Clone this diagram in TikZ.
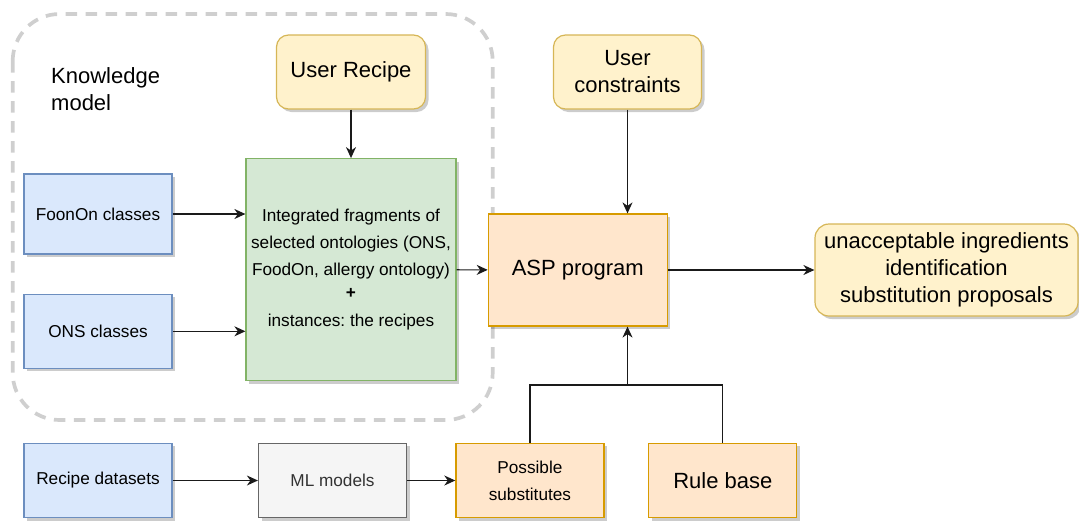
\documentclass[tikz,border=0pt]{standalone}
\usepackage{fontspec}
\setmainfont{Liberation Sans}
\usetikzlibrary{arrows.meta,shadows}
\frenchspacing
\definecolor{bluefill}{HTML}{DAE8FC}
\definecolor{bluedraw}{HTML}{6C8EBF}
\definecolor{greenfill}{HTML}{D5E8D4}
\definecolor{greendraw}{HTML}{82B366}
\definecolor{yellowfill}{HTML}{FFF2CC}
\definecolor{yellowdraw}{HTML}{D6B656}
\definecolor{orangefill}{HTML}{FFE6CC}
\definecolor{orangedraw}{HTML}{D79B00}
\definecolor{grayfill}{HTML}{F5F5F5}
\definecolor{graydraw}{HTML}{666666}
\definecolor{graytext}{HTML}{333333}
\definecolor{kmdash}{HTML}{CFCFCF}
\definecolor{edgecol}{HTML}{1A1A1A}
\tikzset{
  box/.style={rectangle, inner sep=0pt, line width=1.2pt, align=center,
    drop shadow={shadow xshift=3pt, shadow yshift=-3pt, fill=black, opacity=0.2}},
  bigtext/.style={font=\fontsize{22}{27}\selectfont},
  smalltext/.style={font=\fontsize{17.2}{27}\selectfont},
  bluebox/.style={box, fill=bluefill, draw=bluedraw, smalltext},
  greenbox/.style={box, fill=greenfill, draw=greendraw, smalltext},
  yellowbox/.style={box, fill=yellowfill, draw=yellowdraw, bigtext, rounded corners=12pt},
  orangebox/.style={box, fill=orangefill, draw=orangedraw},
  graybox/.style={box, fill=grayfill, draw=graydraw, text=graytext, smalltext},
  arr/.style={draw=edgecol, line width=1.2pt, -{Stealth[length=11pt,width=10pt,inset=3.5pt]}},
  lin/.style={draw=edgecol, line width=1.2pt},
}
\begin{document}
\begin{tikzpicture}[x=1pt,y=-1pt]
\useasboundingbox (0,0) rectangle (1079,520);
% knowledge model container
\draw[kmdash, line width=3.7pt, dash pattern=on 11.5pt off 8.5pt, rounded corners=47pt]
  (12.7,14) rectangle (492.7,420);
\node[bigtext, align=left, anchor=west, inner sep=0pt] (kmlabel) at (51,89.5) {Knowledge\\model};
% nodes
\node[yellowbox, minimum width=149pt, minimum height=74pt] (ur) at (351,72) {User Recipe};
\node[yellowbox, minimum width=148pt, minimum height=74pt] (uc) at (627.5,72) {User\\constraints};
\node[greenbox, minimum width=210pt, minimum height=222pt] (green) at (351,269.7)
  {Integrated fragments of\\selected ontologies (ONS,\\FoodOn, allergy ontology)\\[-3.7pt]\textbf{+}\\[1.3pt]instances: the recipes};
\node[bluebox, minimum width=148pt, minimum height=80pt] (foon) at (98,214) {FoonOn classes};
\node[bluebox, minimum width=148pt, minimum height=74pt] (ons) at (98,331.3) {ONS classes};
\node[bluebox, minimum width=148pt, minimum height=74.4pt] (rd) at (98,480.5) {Recipe datasets};
\node[graybox, minimum width=148pt, minimum height=74.4pt] (ml) at (332.5,480.5) {ML models};
\node[orangebox, smalltext, minimum width=148pt, minimum height=74.4pt] (ps) at (529.9,480.5) {Possible\\substitutes};
\node[orangebox, bigtext, minimum width=148pt, minimum height=74.4pt] (rb) at (722.8,480.5) {Rule base};
\node[orangebox, bigtext, minimum width=179pt, minimum height=112pt] (asp) at (577.8,270) {ASP program};
\node[box, fill=yellowfill, draw=yellowdraw, bigtext, rounded corners=14pt,
  minimum width=263pt, minimum height=92pt] (out) at (946.5,270)
  {unacceptable ingredients\\identification\\substitution proposals};
\coordinate (j) at (627.5,385);
% connectors
\draw[arr] (ur) -- (green);
\draw[arr] (foon.east) -- (foon.east -| green.west);
\draw[arr] (ons.east) -- (ons.east -| green.west);
\draw[arr] (green) -- (asp);
\draw[arr] (asp) -- (out);
\draw[arr] (uc.south) -- (uc.south |- asp.north);
\draw[lin] (ps.north) |- (j);
\draw[lin] (rb.north) |- (j);
\draw[arr] (j) -- (j |- asp.south);
\draw[arr] (rd) -- (ml);
\draw[arr] (ml) -- (ps);
\end{tikzpicture}
\end{document}
